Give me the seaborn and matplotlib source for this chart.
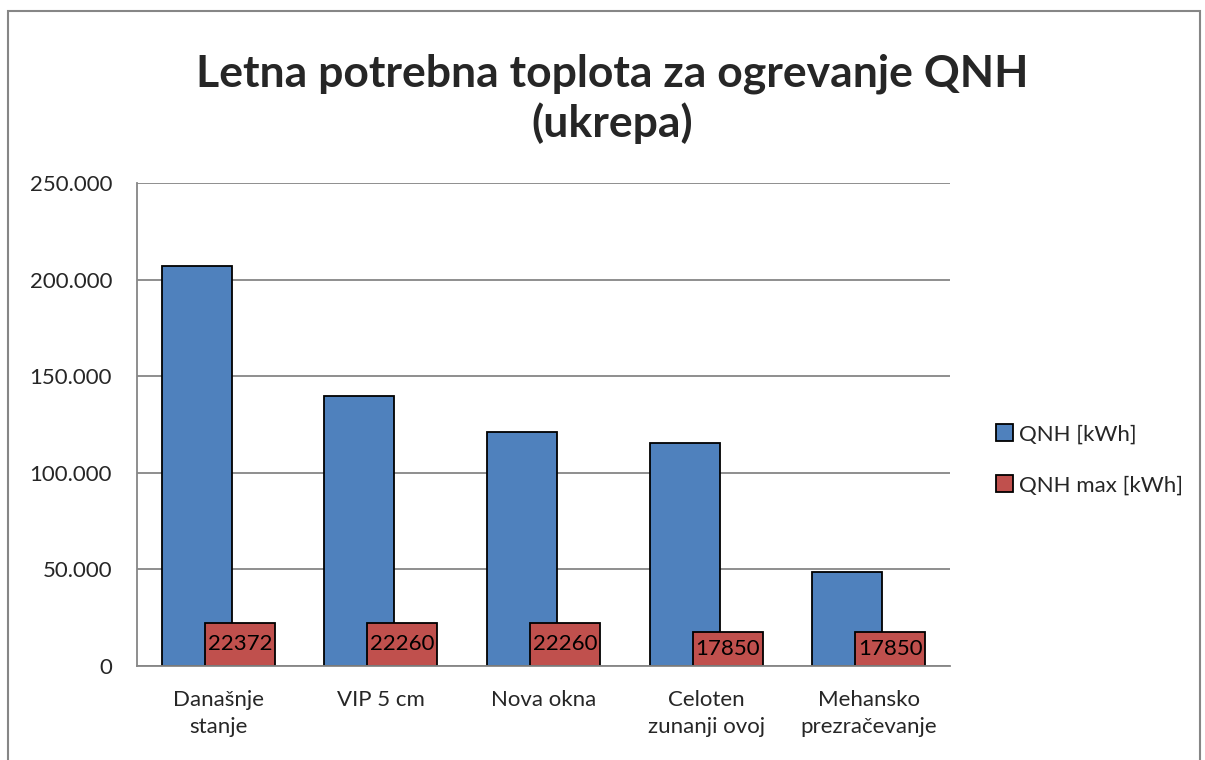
import numpy as np
import pandas as pd
import seaborn as sns
import matplotlib.pyplot as plt
from matplotlib.patches import Rectangle
from matplotlib.ticker import FuncFormatter, MultipleLocator

sns.set_theme(style="white")
plt.rcParams['font.family'] = ['Lato', 'DejaVu Sans']

categories = ["Današnje\nstanje", "VIP 5 cm", "Nova okna", "Celoten\nzunanji ovoj", "Mehansko\nprezračevanje"]
qnh = [207000, 140000, 121000, 115500, 48500]
qnh_max = [22372, 22260, 22260, 17850, 17850]
series_names = ["QNH [kWh]", "QNH max [kWh]"]
colors = ["#4F81BD", "#C0504D"]

pos = np.arange(len(categories))
shift = 0.132

fig = plt.figure(figsize=(12.05, 7.6), dpi=100)
ax = fig.add_axes([0.1137, 0.1237, 0.6747, 0.6355])

sns.barplot(x=pos - shift, y=qnh, native_scale=True, width=0.43, color=colors[0],
            edgecolor="black", linewidth=1.3, saturation=1, ax=ax, label=series_names[0])
sns.barplot(x=pos + shift, y=qnh_max, native_scale=True, width=0.43, color=colors[1],
            edgecolor="black", linewidth=1.3, saturation=1, ax=ax, label=series_names[1])

ax.bar_label(ax.containers[1], labels=[str(v) for v in qnh_max], label_type='center',
             fontsize=16, color="black")

ax.set_xlim(-0.5, len(categories) - 0.5)
ax.set_ylim(0, 250000)
ax.yaxis.set_major_locator(MultipleLocator(50000))
ax.yaxis.set_major_formatter(FuncFormatter(lambda v, p: f"{int(v):,}".replace(",", ".")))
ax.set_xticks(pos)
ax.set_xticklabels(categories, fontsize=16, linespacing=1.45)
ax.tick_params(axis='y', labelsize=16, length=0, pad=18)
ax.tick_params(axis='x', length=0, pad=17)
ax.yaxis.grid(True, color="#868686", linewidth=1.3)
ax.set_axisbelow(True)
for s in ["top", "right"]:
    ax.spines[s].set_visible(False)
for s in ["left", "bottom"]:
    ax.spines[s].set_color("#868686")
    ax.spines[s].set_linewidth(1.3)

leg = ax.legend(loc="center left", bbox_to_anchor=(0.81, 0.395), bbox_transform=fig.transFigure,
                frameon=False, fontsize=16, handlelength=0.75, handleheight=0.75,
                handletextpad=0.3, labelspacing=1.4)

fig.text(0.508, 0.87, "Letna potrebna toplota za ogrevanje QNH\n(ukrepa)", ha="center", va="center",
         fontsize=32, fontweight="bold", linespacing=1.25)

fig.patches.append(Rectangle((8 / 1205, -0.05), 1192 / 1205, 1.05 - 11 / 760, transform=fig.transFigure,
                             fill=False, edgecolor="#868686", linewidth=1.5))

fig.savefig("out.png", dpi=100)
